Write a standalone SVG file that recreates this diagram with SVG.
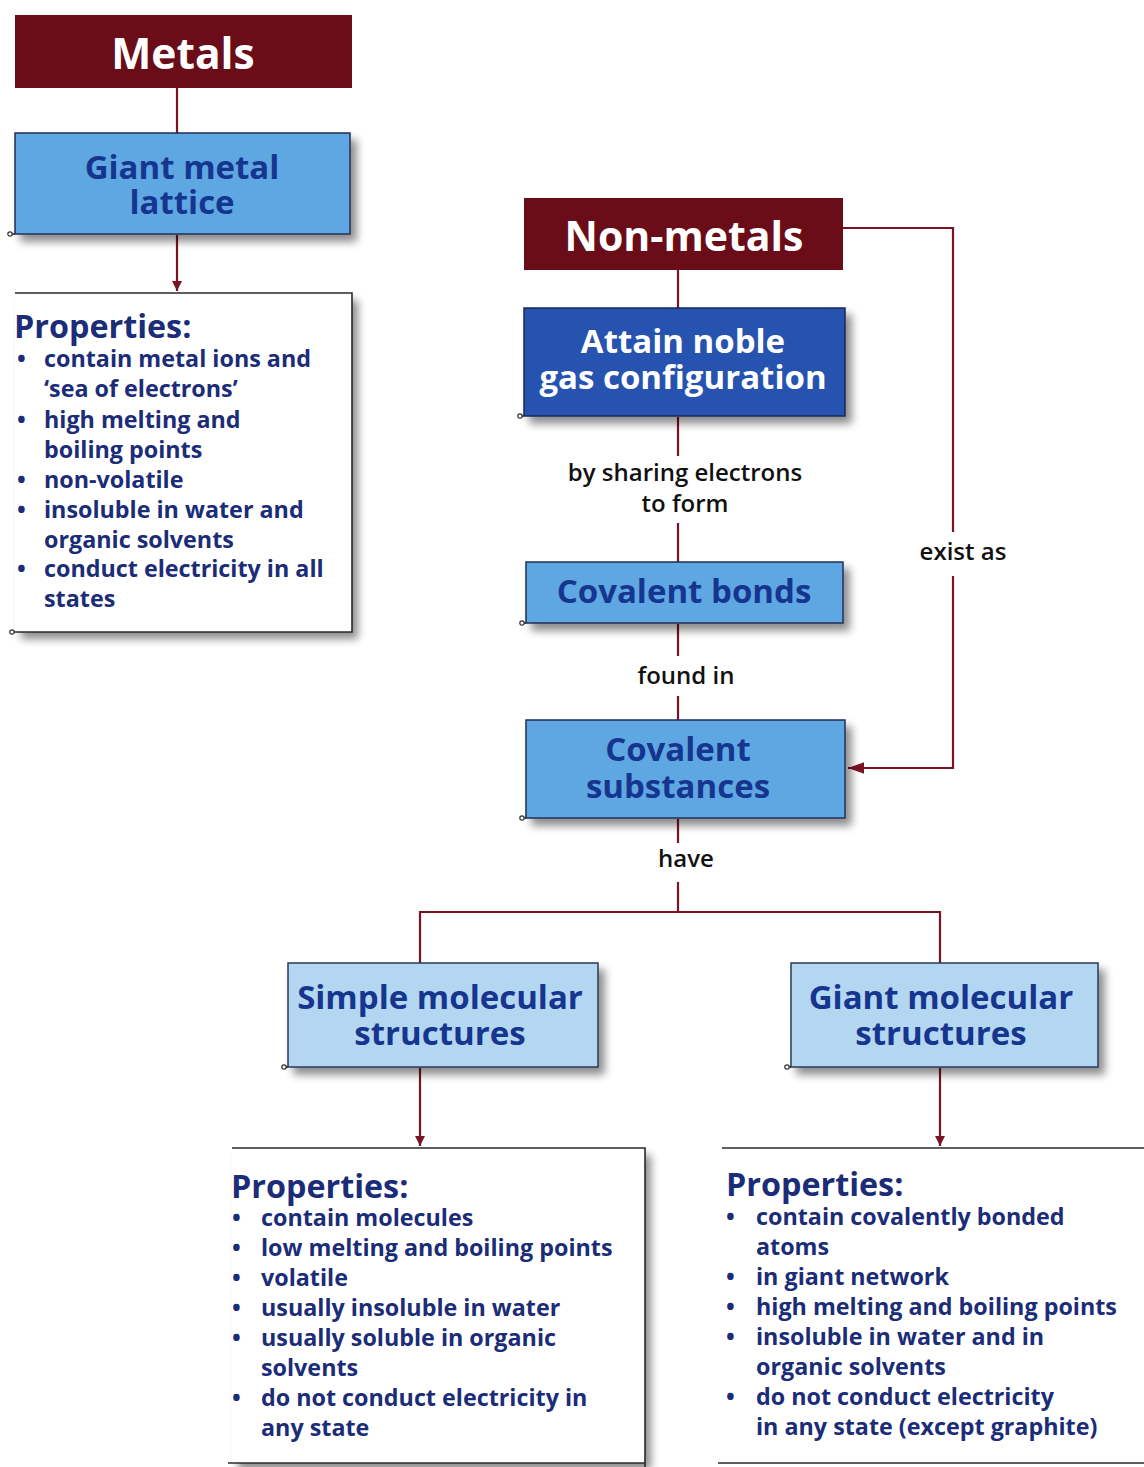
<svg xmlns="http://www.w3.org/2000/svg" width="1144" height="1467" viewBox="0 0 1144 1467">
<defs>
<filter id="sh" x="-10%" y="-10%" width="130%" height="140%">
<feGaussianBlur in="SourceAlpha" stdDeviation="4"/>
<feOffset dx="6" dy="7" result="b"/>
<feComponentTransfer><feFuncA type="linear" slope="0.45"/></feComponentTransfer>
<feMerge><feMergeNode/><feMergeNode in="SourceGraphic"/></feMerge>
</filter>
<marker id="ah" viewBox="0 0 10 10" refX="10" refY="5" markerWidth="10" markerHeight="12" markerUnits="userSpaceOnUse" orient="auto">
<path d="M0,0 L10,5 L0,10 z" fill="#7a1424"/>
</marker>
<marker id="ahl" viewBox="0 0 14 10" refX="14" refY="5" markerWidth="16" markerHeight="12" markerUnits="userSpaceOnUse" orient="auto">
<path d="M0,0 L14,5 L0,10 z" fill="#7a1424"/>
</marker>
</defs>
<style>
.red{fill:#6a0d18}
.dark{fill:#2652b0;stroke:#1a2a55;stroke-width:1.5}
.mid{fill:#5fa7e2;stroke:#1f2f55;stroke-width:1.5}
.light{fill:#b3d6f1;stroke:#2a3a5a;stroke-width:1.5}
.wt{font-family:"Open Sans","Noto Sans",sans-serif;font-weight:700;fill:#ffffff;text-anchor:middle}
.bt{font-family:"Open Sans","Noto Sans",sans-serif;font-weight:700;fill:#16358f;text-anchor:middle;font-size:33px}
.pt{font-family:"Open Sans","Noto Sans",sans-serif;font-weight:700;fill:#1b2c78;font-size:23.3px}
.ph{font-size:32.3px}
.lbl{font-family:"Open Sans","Noto Sans",sans-serif;font-weight:600;fill:#111111;font-size:24px;text-anchor:middle}
.pbox{fill:#ffffff;stroke:none}
.pline{fill:none;stroke:#2a2a2a;stroke-width:1.6}
.dot{fill:#fff;stroke:#333;stroke-width:1.2}
.con{fill:none;stroke:#7a1424;stroke-width:2.2}
</style>
<rect width="1144" height="1467" fill="#ffffff"/>

<g id="connectors">
<line class="con" x1="177" y1="88" x2="177" y2="133"/>
<line class="con" x1="177" y1="235" x2="177" y2="291" marker-end="url(#ah)"/>
<line class="con" x1="678" y1="270" x2="678" y2="308"/>
<line class="con" x1="678" y1="417" x2="678" y2="456"/>
<line class="con" x1="678" y1="523" x2="678" y2="562"/>
<line class="con" x1="678" y1="624" x2="678" y2="656"/>
<line class="con" x1="678" y1="696" x2="678" y2="720"/>
<polyline class="con" points="843,228 953,228 953,532"/>
<polyline class="con" points="953,576 953,768 848,768" marker-end="url(#ahl)"/>
<line class="con" x1="678" y1="819" x2="678" y2="843"/>
<line class="con" x1="678" y1="882" x2="678" y2="912"/>
<polyline class="con" points="420,963 420,912 940,912 940,963"/>
<line class="con" x1="420" y1="1068" x2="420" y2="1146" marker-end="url(#ah)"/>
<line class="con" x1="940" y1="1068" x2="940" y2="1146" marker-end="url(#ah)"/>
<text class="lbl"><tspan x="685" y="481">by sharing electrons</tspan><tspan x="685" y="512">to form</tspan></text>
<text class="lbl" x="686" y="684">found in</text>
<text class="lbl" x="963" y="560">exist as</text>
<text class="lbl" x="686" y="867">have</text>
</g>

<g id="metals">
<rect class="red" x="15" y="15" width="337" height="73"/>
<text class="wt" x="183" y="69" font-size="42.5">Metals</text>
</g>

<g id="giant-metal-lattice">
<rect class="mid" x="15" y="133" width="335" height="101" filter="url(#sh)"/>
<line class="pline" x1="10" y1="234" x2="15" y2="234"/>
<circle class="dot" cx="10" cy="234" r="2.2"/>
<text class="bt"><tspan x="182" y="179">Giant metal</tspan><tspan x="182" y="214">lattice</tspan></text>
</g>

<g id="metal-properties">
<rect class="pbox" x="15" y="293" width="337" height="339" filter="url(#sh)"/>
<path class="pline" d="M15,293 H352 V632 H12"/>
<circle class="dot" cx="12" cy="632" r="2.2"/>
<text class="pt"><tspan class="ph" x="14" y="338">Properties:</tspan><tspan x="17" y="367">•</tspan><tspan x="44" y="367">contain metal ions and</tspan><tspan x="44" y="397">‘sea of electrons’</tspan><tspan x="17" y="428">•</tspan><tspan x="44" y="428">high melting and</tspan><tspan x="44" y="458">boiling points</tspan><tspan x="17" y="488">•</tspan><tspan x="44" y="488">non-volatile</tspan><tspan x="17" y="518">•</tspan><tspan x="44" y="518">insoluble in water and</tspan><tspan x="44" y="548">organic solvents</tspan><tspan x="17" y="577">•</tspan><tspan x="44" y="577">conduct electricity in all</tspan><tspan x="44" y="607">states</tspan></text>
</g>

<g id="non-metals">
<rect class="red" x="524" y="198" width="319" height="72"/>
<text class="wt" x="684" y="251" font-size="41">Non-metals</text>
</g>

<g id="attain-noble-gas">
<rect class="dark" x="524" y="308" width="321" height="108" filter="url(#sh)"/>
<line class="pline" x1="520" y1="416" x2="524" y2="416"/>
<circle class="dot" cx="520" cy="416" r="2.2"/>
<text class="wt" font-size="33"><tspan x="683" y="353">Attain noble</tspan><tspan x="683" y="389">gas configuration</tspan></text>
</g>

<g id="covalent-bonds">
<rect class="mid" x="526" y="562" width="317" height="61" filter="url(#sh)"/>
<line class="pline" x1="522" y1="623" x2="526" y2="623"/>
<circle class="dot" cx="522" cy="623" r="2.2"/>
<text class="bt" x="684" y="603">Covalent bonds</text>
</g>

<g id="covalent-substances">
<rect class="mid" x="526" y="720" width="319" height="98" filter="url(#sh)"/>
<line class="pline" x1="522" y1="818" x2="526" y2="818"/>
<circle class="dot" cx="522" cy="818" r="2.2"/>
<text class="bt"><tspan x="678" y="761">Covalent</tspan><tspan x="678" y="798">substances</tspan></text>
</g>

<g id="simple-molecular">
<rect class="light" x="288" y="963" width="310" height="104" filter="url(#sh)"/>
<line class="pline" x1="284" y1="1067" x2="288" y2="1067"/>
<circle class="dot" cx="284" cy="1067" r="2.2"/>
<text class="bt"><tspan x="440" y="1009">Simple molecular</tspan><tspan x="440" y="1045">structures</tspan></text>
</g>

<g id="giant-molecular">
<rect class="light" x="791" y="963" width="307" height="104" filter="url(#sh)"/>
<line class="pline" x1="787" y1="1067" x2="791" y2="1067"/>
<circle class="dot" cx="787" cy="1067" r="2.2"/>
<text class="bt"><tspan x="941" y="1009">Giant molecular</tspan><tspan x="941" y="1045">structures</tspan></text>
</g>

<g id="simple-properties">
<rect class="pbox" x="232" y="1148" width="413" height="315" filter="url(#sh)"/>
<path class="pline" d="M232,1148 H645 V1467"/>
<line class="pline" x1="228" y1="1463" x2="645" y2="1463"/>
<text class="pt"><tspan class="ph" x="231" y="1198">Properties:</tspan><tspan x="232" y="1226">•</tspan><tspan x="261" y="1226">contain molecules</tspan><tspan x="232" y="1256">•</tspan><tspan x="261" y="1256">low melting and boiling points</tspan><tspan x="232" y="1286">•</tspan><tspan x="261" y="1286">volatile</tspan><tspan x="232" y="1316">•</tspan><tspan x="261" y="1316">usually insoluble in water</tspan><tspan x="232" y="1346">•</tspan><tspan x="261" y="1346">usually soluble in organic</tspan><tspan x="261" y="1376">solvents</tspan><tspan x="232" y="1406">•</tspan><tspan x="261" y="1406">do not conduct electricity in</tspan><tspan x="261" y="1436">any state</tspan></text>
</g>

<g id="giant-properties">
<rect class="pbox" x="722" y="1148" width="422" height="315"/>
<line class="pline" x1="722" y1="1148" x2="1144" y2="1148"/>
<line class="pline" x1="718" y1="1463" x2="1144" y2="1463"/>
<text class="pt"><tspan class="ph" x="726" y="1196">Properties:</tspan><tspan x="726" y="1225">•</tspan><tspan x="756" y="1225">contain covalently bonded</tspan><tspan x="756" y="1255">atoms</tspan><tspan x="726" y="1285">•</tspan><tspan x="756" y="1285">in giant network</tspan><tspan x="726" y="1315">•</tspan><tspan x="756" y="1315">high melting and boiling points</tspan><tspan x="726" y="1345">•</tspan><tspan x="756" y="1345">insoluble in water and in</tspan><tspan x="756" y="1375">organic solvents</tspan><tspan x="726" y="1405">•</tspan><tspan x="756" y="1405">do not conduct electricity</tspan><tspan x="756" y="1435">in any state (except graphite)</tspan></text>
</g>
</svg>
